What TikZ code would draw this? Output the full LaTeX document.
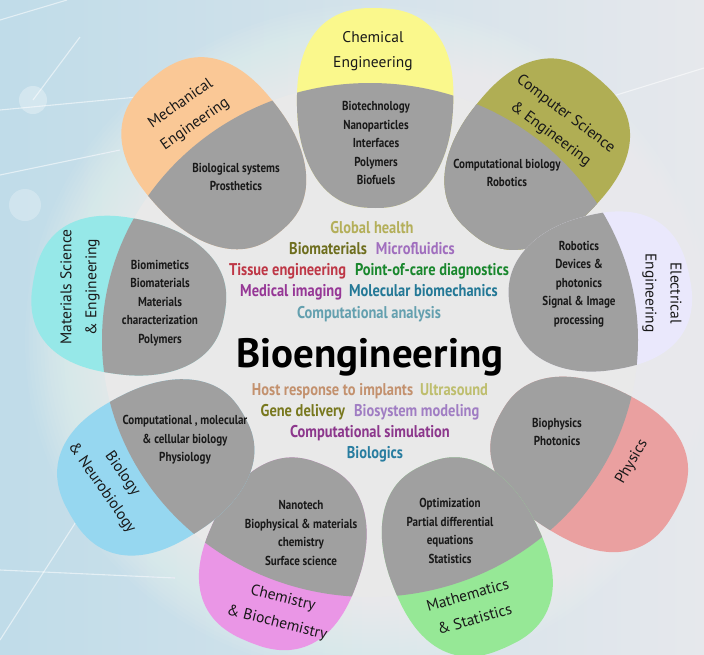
\documentclass[tikz,border=0pt]{standalone}
\usepackage{fontspec}
\setmainfont{PT Sans}
\newfontfamily\condfont[FakeStretch=0.85]{PT Sans}
\newfontfamily\kwfont[FakeStretch=0.85]{PT Sans}

\definecolor{bgL}{RGB}{192,220,233}
\definecolor{bgR}{RGB}{230,232,236}
\definecolor{discfill}{RGB}{233,233,233}
\definecolor{petalgray}{RGB}{160,160,160}
\definecolor{textdark}{RGB}{25,25,25}
\definecolor{cChem}{RGB}{250,248,140}
\definecolor{cCS}{RGB}{176,174,84}
\definecolor{cEE}{RGB}{234,232,252}
\definecolor{cPhys}{RGB}{234,160,160}
\definecolor{cMath}{RGB}{150,232,150}
\definecolor{cChemBio}{RGB}{234,150,230}
\definecolor{cBio}{RGB}{150,215,240}
\definecolor{cMat}{RGB}{150,232,232}
\definecolor{cMech}{RGB}{250,200,150}
\definecolor{kGlobal}{RGB}{180,175,90}
\definecolor{kBiomat}{RGB}{110,110,30}
\definecolor{kMicro}{RGB}{160,110,190}
\definecolor{kTissue}{RGB}{190,55,70}
\definecolor{kPoc}{RGB}{25,135,45}
\definecolor{kMedImg}{RGB}{150,55,150}
\definecolor{kMolBio}{RGB}{35,120,150}
\definecolor{kCompAn}{RGB}{100,160,175}
\definecolor{kHost}{RGB}{195,145,110}
\definecolor{kUltra}{RGB}{190,190,110}
\definecolor{kGene}{RGB}{120,120,30}
\definecolor{kBiosys}{RGB}{160,125,195}
\definecolor{kCompSim}{RGB}{140,55,140}
\definecolor{kBiologics}{RGB}{40,125,160}

% rounded egg-shaped petal, broad end outward (screen up before rotation)
\newcommand\petalshape{plot[domain=0:360, samples=61, smooth] ({78*(1+0.07*cos(\x))*sin(\x)*(abs(sin(\x))+0.0001)^(-0.18)}, {-100*cos(\x)*(abs(cos(\x))+0.0001)^(-0.12)}) -- cycle}
\newcommand\drawpetal[5]{%
  \fill[#4, shift={(#1,#2)}, rotate=#3, yscale=#5] \petalshape;
  \begin{scope}
    \clip (370,340) ellipse [x radius=268pt, y radius=257pt];
    \fill[petalgray, shift={(#1,#2)}, rotate=#3, yscale=#5] \petalshape;
  \end{scope}}

\tikzset{
  graytext/.style={font=\condfont\bfseries\fontsize{13}{18.5}\selectfont, align=center, text=textdark, inner sep=0pt},
  fieldlabel/.style={font=\fontsize{15.5}{25}\selectfont, align=center, text=textdark, inner sep=0pt},
  keyrow/.style={font=\kwfont\bfseries\fontsize{17}{20}\selectfont, anchor=base, inner sep=0pt},
  titletext/.style={font=\bfseries\fontsize{41}{46}\selectfont, anchor=base, inner sep=0pt, text=black},
  netline/.style={white, opacity=0.55, line width=1.1pt}
}

\begin{document}
\begin{tikzpicture}[x=1pt,y=-1pt]
\useasboundingbox (0,0) rectangle (704,654);
% background
\shade[left color=bgL, right color=bgR] (0,0) rectangle (704,654);
% faint network lines of the backdrop
\coordinate (n1) at (0,110);
\coordinate (n2) at (180,93);
\coordinate (n3) at (0,20);
\coordinate (n4) at (67,0);
\coordinate (n5) at (80,37);
\coordinate (n6) at (33,100);
\coordinate (n7) at (0,175);
\coordinate (n8) at (120,150);
\coordinate (n9) at (0,570);
\coordinate (n10) at (175,578);
\coordinate (n11) at (610,97);
\coordinate (n12) at (704,68);
\coordinate (n13) at (0,640);
\coordinate (n14) at (90,500);
\draw[netline] (n1) -- (n2);
\draw[netline] (n3) -- (n4);
\draw[netline] (n5) -- (n6);
\draw[netline] (n7) -- (n8);
\draw[netline] (n9) -- (n10);
\draw[netline] (n11) -- (n12);
\draw[netline] (n13) -- (n14);
\fill[white, opacity=0.3] (n6) circle [radius=14pt];
\fill[white, opacity=0.25] (25,205) circle [radius=16pt];
% soft glow around the flower
\foreach \k in {0,...,19}
  \fill[white, opacity=0.045] (370,340) ellipse [x radius={345pt-\k*3.8pt}, y radius={335pt-\k*3.8pt}];
% central disc
\fill[discfill] (370,340) ellipse [x radius=268pt, y radius=257pt];
% petals: x, y, rotation, colour, length scale
\drawpetal{375}{108}{-1}{cChem}{1}
\drawpetal{535}{156}{-41}{cCS}{1}
\drawpetal{600}{293}{-78}{cEE}{0.91}
\drawpetal{588}{462}{-119}{cPhys}{1}
\drawpetal{465}{556}{-156}{cMath}{1}
\drawpetal{285}{553}{158}{cChemBio}{0.96}
\drawpetal{157}{465}{120}{cBio}{1}
\drawpetal{129}{297}{80}{cMat}{0.97}
\drawpetal{216}{155}{40}{cMech}{1}

% texts in grey parts
\node[graytext] (mechT) at (236,177) {Biological systems\\Prosthetics};
\node[graytext] (chemT) at (376,143) {Biotechnology\\Nanoparticles\\Interfaces\\Polymers\\Biofuels};
\node[graytext] (csT) at (507,173) {Computational biology\\Robotics};
\node[graytext] (eeT) at (579,284) {Robotics\\Devices \&\\photonics\\Signal \& Image\\processing};
\node[graytext] (physT) at (557,432) {Biophysics\\Photonics};
\node[graytext] (mathT) at (450,531) {Optimization\\Partial differential\\equations\\Statistics};
\node[graytext] (chembioT) at (301,533) {Nanotech\\Biophysical \& materials\\chemistry\\Surface science};
\node[graytext] (bioT) at (185,440) {Computational , molecular\\\& cellular biology\\Physiology};
\node[graytext] (matT) at (160,303) {Biomimetics\\Biomaterials\\Materials\\characterization\\Polymers};

% field labels
\node[fieldlabel, rotate=35] (mechL) at (188,114) {Mechanical\\Engineering};
\node[fieldlabel] (chemL) at (373,51) {Chemical\\Engineering};
\node[fieldlabel, rotate=-37] (csL) at (558,124) {Computer Science\\\& Engineering};
\node[fieldlabel, rotate=-90] (eeL) at (662,293) {Electrical\\Engineering};
\node[fieldlabel, rotate=60] (physL) at (632,462) {Physics};
\node[fieldlabel, rotate=16] (mathL) at (471,607) {Mathematics\\\& Statistics};
\node[fieldlabel, rotate=-14] (chembioL) at (280,611) {Chemistry\\\& Biochemistry};
\node[fieldlabel, rotate=-55] (bioL) at (112,481) {Biology\\\& Neurobiology};
\node[fieldlabel, rotate=90] (matL) at (80,287) {Materials Science\\\& Engineering};

% central keywords
\node[keyrow] (k1) at (372,233) {\textcolor{kGlobal}{Global health}};
\node[keyrow] (k2) at (372,254) {\textcolor{kBiomat}{Biomaterials}\hspace{9pt}\textcolor{kMicro}{Microfluidics}};
\node[keyrow] (k3) at (369,275) {\textcolor{kTissue}{Tissue engineering}\hspace{9pt}\textcolor{kPoc}{Point-of-care diagnostics}};
\node[keyrow] (k4) at (369,296) {\textcolor{kMedImg}{Medical imaging}\hspace{7pt}\textcolor{kMolBio}{Molecular biomechanics}};
\node[keyrow] (k5) at (369,318) {\textcolor{kCompAn}{Computational analysis}};
\node[titletext] (title) at (370,367) {Bioengineering};
\node[keyrow] (k6) at (370,395) {\textcolor{kHost}{Host response to implants}\hspace{7pt}\textcolor{kUltra}{Ultrasound}};
\node[keyrow] (k7) at (370,416) {\textcolor{kGene}{Gene delivery}\hspace{9pt}\textcolor{kBiosys}{Biosystem modeling}};
\node[keyrow] (k8) at (370,437) {\textcolor{kCompSim}{Computational simulation}};
\node[keyrow] (k9) at (375,458) {\textcolor{kBiologics}{Biologics}};
\end{tikzpicture}
\end{document}
